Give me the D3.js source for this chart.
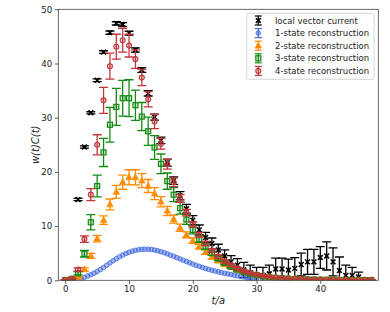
<!DOCTYPE html>
<html>
<head>
<meta charset="utf-8">
<script src="https://cdn.jsdelivr.net/npm/d3@7"></script>
<style>
  body { margin: 0; background: #fff; }
  text { font-family: "DejaVu Sans", sans-serif; }
</style>
</head>
<body>
<script>
// Step 1: data
//= ================================
var tLocal = d3.range(2, 47);
var localVals = [14.9, 24.6, 30.9, 36.9, 42.1, 45.7, 47.4, 47.2, 45.6, 42.5, 38.8, 34.5, 30.1, 25.8,
    21.7, 18.4, 15.6, 13.2, 11.1, 9.3, 7.9, 6.8, 5.6, 4.5, 3.4, 2.8, 1.9, 1.4, 1.0, 0.9, 1.2,
    2.1, 2.1, 1.9, 2.2, 2.9, 3.4, 3.4, 4.2, 4.5, 3.4, 1.8, 0.9, 0.9, 0.6];
var localErr = [0.2, 0.2, 0.2, 0.25, 0.25, 0.3, 0.3, 0.35, 0.35, 0.4, 0.45, 0.5, 0.55, 0.6,
    0.65, 0.7, 0.75, 0.8, 0.85, 0.9, 0.95, 1.0, 1.05, 1.1, 1.15, 1.2, 1.4, 1.4, 1.4, 1.5, 1.6,
    2.0, 2.0, 2.0, 2.0, 2.1, 2.3, 2.3, 2.0, 2.6, 2.6, 2.5, 1.9, 1.5, 0.9];

var tOne = [0, 0.5, 1, 1.5, 2, 2.5, 3, 3.5, 4, 4.5, 5, 5.5, 6, 6.5, 7, 7.5, 8, 8.5, 9, 9.5,
    10, 10.5, 11, 11.5, 12, 12.5, 13, 13.5, 14, 14.5, 15, 15.5, 16, 16.5, 17, 17.5, 18, 18.5,
    19, 19.5, 20, 20.5, 21, 21.5, 22, 22.5, 23, 23.5, 24, 24.5, 25, 25.5, 26, 26.5, 27, 27.5,
    28, 28.5, 29, 29.5, 30, 31, 32, 33, 34, 35, 36, 37, 38, 39, 40, 41, 42, 43, 44, 45, 46, 47, 48];
var oneVals = [0.0, 0.01, 0.03, 0.08, 0.18, 0.35, 0.55, 0.78, 1.02, 1.3, 1.62, 1.98, 2.36, 2.78,
    3.2, 3.6, 3.98, 4.33, 4.65, 4.93, 5.17, 5.37, 5.53, 5.64, 5.71, 5.74, 5.73, 5.68, 5.58, 5.45,
    5.28, 5.09, 4.88, 4.65, 4.42, 4.18, 3.94, 3.7, 3.46, 3.23, 3.0, 2.78, 2.58, 2.38, 2.19, 2.02,
    1.85, 1.7, 1.55, 1.42, 1.29, 1.17, 1.06, 0.95, 0.84, 0.73, 0.62, 0.5, 0.4, 0.33, 0.27,
    0.2, 0.15, 0.11, 0.08, 0.06, 0.05, 0.04, 0.03, 0.02, 0.02, 0.01, 0.01, 0.01, 0.01, 0.0, 0.0, 0.0, 0.0];

var tRec = d3.range(0, 49);
var twoVals = [0.0, 0.1, 0.6, 2.0, 4.5, 7.7, 11.1, 14.0, 16.3, 18.1, 19.0, 19.0, 18.4, 17.4, 16.0,
    14.5, 12.8, 11.3, 9.7, 8.4, 7.3, 6.2, 5.2, 4.3, 3.6, 2.9, 2.4, 1.9, 1.5, 1.2, 0.95, 0.75, 0.6,
    0.47, 0.37, 0.3, 0.24, 0.19, 0.15, 0.12, 0.1, 0.08, 0.07, 0.06, 0.05, 0.04, 0.04, 0.03, 0.03];
var twoErr = [0.02, 0.05, 0.1, 0.3, 0.45, 0.6, 0.8, 1.0, 1.2, 1.3, 1.4, 1.4, 1.3, 1.2, 1.1, 0.95,
    0.85, 0.75, 0.65, 0.55, 0.5, 0.45, 0.4, 0.35, 0.3, 0.25, 0.2, 0.2, 0.15, 0.15, 0.1, 0.1, 0.1,
    0.05, 0.05, 0.05, 0.05, 0.05, 0.05, 0.05, 0.05, 0.05, 0.05, 0.05, 0.05, 0.05, 0.05, 0.05, 0.05];
var threeVals = [0.05, 0.25, 1.3, 4.9, 10.7, 17.4, 23.6, 28.7, 32.0, 33.6, 33.6, 32.3, 30.2, 27.5,
    24.5, 21.5, 18.3, 15.8, 13.3, 11.2, 9.3, 7.6, 6.2, 5.0, 4.0, 3.2, 2.5, 2.0, 1.55, 1.2, 0.95,
    0.75, 0.58, 0.46, 0.37, 0.3, 0.24, 0.2, 0.16, 0.13, 0.11, 0.09, 0.08, 0.07, 0.06, 0.05, 0.05, 0.04, 0.04];
var threeErr = [0.05, 0.1, 0.3, 0.6, 1.4, 2.0, 2.6, 3.2, 3.4, 3.3, 3.4, 2.8, 2.6, 2.6, 2.2, 1.8,
    1.5, 1.3, 1.1, 0.9, 0.75, 0.6, 0.5, 0.4, 0.35, 0.3, 0.25, 0.2, 0.2, 0.15, 0.1, 0.1, 0.1,
    0.05, 0.05, 0.05, 0.05, 0.05, 0.05, 0.05, 0.05, 0.05, 0.05, 0.05, 0.05, 0.05, 0.05, 0.05, 0.05];
var fourVals = [0.05, 0.3, 2.0, 7.6, 15.8, 25.0, 33.2, 39.5, 43.1, 44.3, 43.3, 40.8, 37.4, 33.4,
    29.3, 25.2, 21.4, 18.1, 15.1, 12.5, 10.3, 8.4, 6.8, 5.5, 4.4, 3.5, 2.8, 2.2, 1.7, 1.35, 1.05,
    0.82, 0.64, 0.5, 0.4, 0.32, 0.26, 0.21, 0.17, 0.14, 0.12, 0.1, 0.09, 0.08, 0.07, 0.06, 0.05, 0.05, 0.04];
var fourErr = [0.05, 0.1, 0.3, 0.6, 1.1, 1.85, 2.4, 2.4, 2.3, 2.2, 2.1, 1.7, 1.5, 1.4, 1.3, 1.0,
    0.9, 0.8, 0.7, 0.6, 0.5, 0.45, 0.4, 0.35, 0.3, 0.25, 0.2, 0.2, 0.15, 0.15, 0.1, 0.1, 0.1,
    0.05, 0.05, 0.05, 0.05, 0.05, 0.05, 0.05, 0.05, 0.05, 0.05, 0.05, 0.05, 0.05, 0.05, 0.05, 0.05];

var xTicks = [0, 10, 20, 30, 40];
var yTicks = [0, 10, 20, 30, 40, 50];
var legendNames = ["local vector current", "1-state reconstruction", "2-state reconstruction",
    "3-state reconstruction", "4-state reconstruction"];

// Step 2: chart setup
//= ================================
var svgWidth = 390;
var svgHeight = 312;
var margin = { top: 9.3, right: 11.7, bottom: 31.7, left: 58.3 };
var chartWidth = svgWidth - margin.left - margin.right;
var chartHeight = svgHeight - margin.top - margin.bottom;

var svg = d3.select("body").append("svg")
    .attr("width", svgWidth)
    .attr("height", svgHeight);

svg.append("defs").append("clipPath").attr("id", "plotclip")
    .append("rect").attr("width", chartWidth).attr("height", chartHeight);

var chartGroup = svg.append("g")
    .attr("transform", `translate(${margin.left}, ${margin.top})`);

var xScale = d3.scaleLinear().domain([-1.1, 49.1]).range([0, chartWidth]);
var yScale = d3.scaleLinear().domain([0, 50]).range([chartHeight, 0]);

// markers
var markers = {
    x: function (g, col) {
        g.append("path").attr("d", "M-2.4,-2.4L2.4,2.4M-2.4,2.4L2.4,-2.4")
            .attr("stroke", col).attr("stroke-width", 1.6).attr("fill", "none");
    },
    smallcircle: function (g, col) {
        g.append("circle").attr("r", 2.3)
            .attr("fill", col).attr("fill-opacity", 0.45)
            .attr("stroke", col).attr("stroke-width", 0.8);
    },
    triangle: function (g, col) {
        g.append("path").attr("d", "M0,-3.6L3.3,2.4L-3.3,2.4Z")
            .attr("fill", col).attr("stroke", col).attr("stroke-width", 0.6);
    },
    square: function (g, col) {
        g.append("rect").attr("x", -2.5).attr("y", -2.5).attr("width", 5).attr("height", 5)
            .attr("fill", col).attr("fill-opacity", 0.2)
            .attr("stroke", col).attr("stroke-width", 1.2);
    },
    circle: function (g, col) {
        g.append("circle").attr("r", 2.5)
            .attr("fill", col).attr("fill-opacity", 0.25)
            .attr("stroke", col).attr("stroke-width", 1.1);
    }
};

var series = [
    { t: tLocal, v: localVals, e: localErr, color: "#000000", marker: "x", cap: 4.5 },
    { t: tOne, v: oneVals, e: null, color: "#4169e1", marker: "smallcircle", cap: 3 },
    { t: tRec, v: twoVals, e: twoErr, color: "#ff8c00", marker: "triangle", cap: 4.5 },
    { t: tRec, v: threeVals, e: threeErr, color: "#108a10", marker: "square", cap: 4.5 },
    { t: tRec, v: fourVals, e: fourErr, color: "#c0363a", marker: "circle", cap: 4.5 }
];

// Step 3: axes and frame
//= ================================
var bottomAxis = d3.axisBottom(xScale).tickValues(xTicks).tickSize(3.5).tickPadding(2.5);
var leftAxis = d3.axisLeft(yScale).tickValues(yTicks).tickSize(3.5).tickPadding(2.5);

var xAxisG = chartGroup.append("g")
    .attr("transform", `translate(0, ${chartHeight})`)
    .call(bottomAxis);
var yAxisG = chartGroup.append("g").call(leftAxis);

[xAxisG, yAxisG].forEach(function (g) {
    g.select(".domain").remove();
    g.selectAll("line").attr("stroke", "#333").attr("stroke-width", 0.8);
    g.selectAll("text").attr("font-size", 8.6).attr("fill", "#222")
        .style("font-family", "'DejaVu Sans', sans-serif");
});

// Step 4: data
//= ================================
var plot = chartGroup.append("g").attr("clip-path", "url(#plotclip)");

series.forEach(function (s) {
    var pts = s.t.map(function (t, i) {
        return { t: t, v: s.v[i], e: s.e ? s.e[i] : 0 };
    });
    var g = plot.append("g");
    if (s.e) {
        var eb = g.selectAll(".eb").data(pts).enter().append("g")
            .attr("stroke", s.color).attr("stroke-width", 1.3).attr("fill", "none");
        eb.append("line")
            .attr("x1", d => xScale(d.t)).attr("x2", d => xScale(d.t))
            .attr("y1", d => yScale(d.v - d.e)).attr("y2", d => yScale(d.v + d.e));
        eb.append("line")
            .attr("x1", d => xScale(d.t) - s.cap).attr("x2", d => xScale(d.t) + s.cap)
            .attr("y1", d => yScale(d.v - d.e)).attr("y2", d => yScale(d.v - d.e));
        eb.append("line")
            .attr("x1", d => xScale(d.t) - s.cap).attr("x2", d => xScale(d.t) + s.cap)
            .attr("y1", d => yScale(d.v + d.e)).attr("y2", d => yScale(d.v + d.e));
    }
    g.selectAll(".mk").data(pts).enter().append("g")
        .attr("transform", d => `translate(${xScale(d.t)}, ${yScale(d.v)})`)
        .each(function () { markers[s.marker](d3.select(this), s.color); });
});

// frame on top
chartGroup.append("rect")
    .attr("width", chartWidth).attr("height", chartHeight)
    .attr("fill", "none").attr("stroke", "#444").attr("stroke-width", 0.8);

// Step 5: labels
//= ================================
chartGroup.append("text")
    .attr("transform", `translate(${chartWidth / 2}, ${chartHeight + 24})`)
    .attr("text-anchor", "middle")
    .attr("font-size", 10).attr("font-style", "italic").attr("fill", "#222")
    .text("t/a");

chartGroup.append("text")
    .attr("transform", `translate(-19, ${chartHeight / 2}) rotate(-90)`)
    .attr("text-anchor", "middle")
    .attr("font-size", 10).attr("font-style", "italic").attr("fill", "#222")
    .text("w(t)C(t)");

// Step 6: legend
//= ================================
var legend = chartGroup.append("g")
    .attr("transform", `translate(${246.7 - margin.left}, ${13.3 - margin.top})`);

legend.append("rect")
    .attr("width", 127.3).attr("height", 66).attr("rx", 2)
    .attr("fill", "#fff").attr("fill-opacity", 0.8)
    .attr("stroke", "#ccc").attr("stroke-width", 0.8);

series.forEach(function (s, i) {
    var row = legend.append("g")
        .attr("transform", `translate(0, ${7.2 + i * 12.6})`);
    var hx = 11.6;
    row.append("line").attr("x1", hx).attr("x2", hx).attr("y1", -4.5).attr("y2", 4.5)
        .attr("stroke", s.color).attr("stroke-width", 1.2);
    [-4.5, 4.5].forEach(function (yy) {
        row.append("line").attr("x1", hx - 3.5).attr("x2", hx + 3.5).attr("y1", yy).attr("y2", yy)
            .attr("stroke", s.color).attr("stroke-width", 1.2);
    });
    var mk = row.append("g").attr("transform", `translate(${hx}, 0)`);
    markers[s.marker](mk, s.color);
    row.append("text")
        .attr("x", 28.3).attr("y", 3)
        .attr("font-size", 8.5).attr("fill", "#222")
        .text(legendNames[i]);
});
</script>
</body>
</html>
